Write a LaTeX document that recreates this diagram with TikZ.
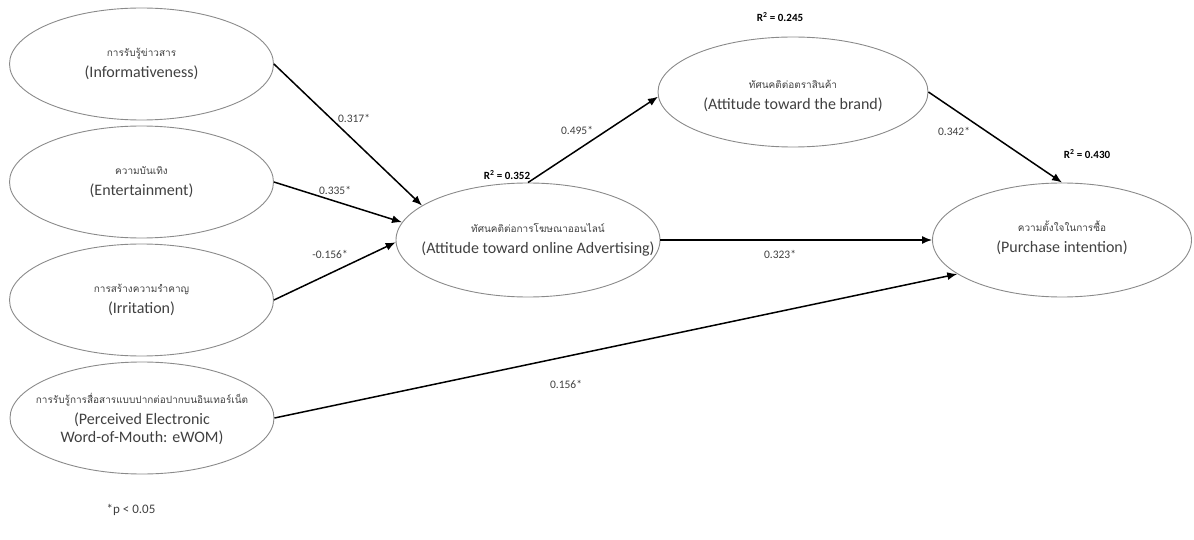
\documentclass[tikz,border=0pt]{standalone}
\usepackage{fontspec}
\setmainfont{Carlito}
\newfontfamily\thaifont[Script=Thai]{Loma}
\usetikzlibrary{shapes.geometric,arrows.meta}
\definecolor{ringgray}{HTML}{8A8A8A}
\definecolor{txtgray}{HTML}{404040}
\newcommand{\thline}[1]{{\thaifont\fontsize{10}{12}\selectfont #1}\\[3pt]}
\begin{document}
\begin{tikzpicture}[x=1pt,y=-1pt,
  construct/.style={ellipse,draw=ringgray,line width=0.9pt,inner sep=0pt,
    minimum width=264pt,minimum height=112pt},
  ctext/.style={align=center,inner sep=0pt,
    font=\fontsize{16}{18}\selectfont,text=txtgray},
  path/.style={-{Latex[length=10pt,width=8pt]},line width=1.5pt,black},
  coef/.style={font=\fontsize{11.5}{13}\selectfont,text=txtgray,inner sep=1pt},
  rsq/.style={font=\bfseries\fontsize{11}{13}\selectfont,text=black,inner sep=1pt}]
\useasboundingbox (0,0) rectangle (1194,540);
\node[construct] (info) at (141.5,64) {};
\node[construct] (ent) at (141.5,182) {};
\node[construct] (irr) at (141.5,300) {};
\node[construct] (ewom) at (142,418) {};
\node[construct,minimum width=264pt,minimum height=114pt] (ad) at (528,240) {};
\node[construct,minimum width=270pt,minimum height=110pt] (brand) at (793,92) {};
\node[construct,minimum width=259pt,minimum height=114pt] (pi) at (1062,240) {};

\node[ctext] (infot) at (info.center) {\thline{การรับรู้ข่าวสาร}(Informativeness)};
\node[ctext] (entt) at (ent.center) {\thline{ความบันเทิง}(Entertainment)};
\node[ctext] (irrt) at (irr.center) {\thline{การสร้างความรำคาญ}(Irritation)};
\node[ctext] (ewomt) at ([yshift=-1pt]ewom.center) {\thline{การรับรู้การสื่อสารแบบปากต่อปากบนอินเทอร์เน็ต}(Perceived Electronic\\Word-of-Mouth: eWOM)};
\node[ctext] (adt) at ([xshift=10pt]ad.center) {\thline{ทัศนคติต่อการโฆษณาออนไลน์}(Attitude toward online Advertising)};
\node[ctext] (brandt) at ([yshift=-4pt]brand.center) {\thline{ทัศนคติต่อตราสินค้า}(Attitude toward the brand)};
\node[ctext] (pit) at ([yshift=2pt]pi.center) {\thline{ความตั้งใจในการซื้อ}(Purchase intention)};

\draw[path] (info.east) -- (ad.162);
\draw[path] (ent.east) -- (ad.172);
\draw[path] (irr.east) -- (ad.181);
\draw[path] (ad.90) -- (brand.182);
\draw[path] (ad.east) -- (pi.west);
\draw[path] (brand.east) -- (pi.north);
\draw[path] (ewom.east) -- (pi.198);

\node[coef] (c1) at (354,118) {0.317*};
\node[coef] (c2) at (335,190) {0.335*};
\node[coef] (c3) at (330,254) {-0.156*};
\node[coef] (c4) at (577,130) {0.495*};
\node[coef] (c5) at (780,254) {0.323*};
\node[coef] (c6) at (954,131) {0.342*};
\node[coef] (c7) at (566,384) {0.156*};
\node[rsq] (r1) at (507,175) {R\textsuperscript{2} = 0.352};
\node[rsq] (r2) at (780,17) {R\textsuperscript{2} = 0.245};
\node[rsq] (r3) at (1087,154) {R\textsuperscript{2} = 0.430};
\node[coef,font=\fontsize{13}{15}\selectfont] (note) at (131,510) {*p < 0.05};
\end{tikzpicture}
\end{document}
